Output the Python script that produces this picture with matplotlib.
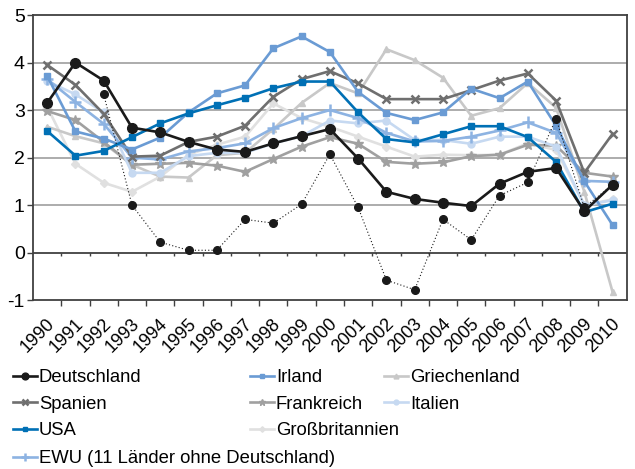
import numpy as np
import matplotlib.pyplot as plt
import matplotlib.transforms as mtransforms

plt.rcParams['font.family'] = ['Liberation Sans', 'DejaVu Sans']
plt.rcParams['axes.unicode_minus'] = False

years = list(range(1990, 2011))

deutschland = [3.15, 4.0, 3.62, 2.63, 2.53, 2.33, 2.17, 2.12, 2.3, 2.45, 2.6,
               1.98, 1.28, 1.13, 1.05, 0.98, 1.45, 1.7, 1.78, 0.87, 1.43]
deutschland_dotted = [np.nan, np.nan, 3.33, 1.0, 0.22, 0.05, 0.05, 0.7, 0.62, 1.02, 2.07,
                      0.95, -0.58, -0.78, 0.7, 0.27, 1.2, 1.48, 2.82, 0.95, 1.43]
irland = [3.72, 2.55, 2.4, 2.17, 2.42, 2.95, 3.35, 3.52, 4.3, 4.55, 4.22,
          3.38, 2.94, 2.79, 2.95, 3.45, 3.25, 3.6, 2.67, 1.5, 0.58]
griechenland = [2.65, 2.45, 2.3, 1.85, 1.6, 1.58, 2.05, 2.1, 2.6, 3.15, 3.57,
                3.35, 4.28, 4.05, 3.68, 2.88, 3.04, 3.57, 3.05, 1.28, -0.83]
spanien = [3.95, 3.53, 2.92, 2.02, 2.04, 2.33, 2.44, 2.67, 3.28, 3.65, 3.82,
           3.56, 3.23, 3.23, 3.23, 3.42, 3.62, 3.77, 3.2, 1.68, 2.5]
frankreich = [2.98, 2.79, 2.33, 1.85, 1.87, 1.89, 1.83, 1.7, 1.97, 2.23, 2.43,
              2.29, 1.91, 1.87, 1.9, 2.03, 2.06, 2.27, 2.25, 1.68, 1.6]
italien = [3.61, 3.33, 2.95, 1.68, 1.68, 2.03, 2.1, 2.1, 2.3, 2.45, 2.78,
           2.72, 2.78, 2.37, 2.37, 2.29, 2.44, 2.44, 2.23, 1.0, 1.1]
usa = [2.56, 2.04, 2.14, 2.43, 2.72, 2.93, 3.1, 3.26, 3.46, 3.6, 3.6,
       2.95, 2.39, 2.32, 2.49, 2.66, 2.66, 2.43, 1.91, 0.85, 1.03]
grossbritannien = [3.07, 1.87, 1.47, 1.28, 1.6, 2.06, 2.27, 2.44, 3.14, 2.83, 2.65,
                   2.44, 2.23, 2.02, 2.06, 2.05, 2.06, 2.3, 2.16, 1.0, 1.12]
ewu = [3.65, 3.17, 2.71, 2.0, 1.96, 2.13, 2.2, 2.3, 2.62, 2.83, 3.0,
       2.83, 2.52, 2.34, 2.35, 2.44, 2.57, 2.74, 2.52, 1.51, 1.49]

x = np.arange(len(years))

fig = plt.figure(figsize=(6.35, 4.69), dpi=100)
ax = fig.add_axes([0.052, 0.36, 0.935, 0.608])

for v in [1, 2, 3, 4]:
    ax.axhline(v, color='#a6a6a6', lw=1.3, zorder=0)
ax.axhline(0, color='#404040', lw=1.3, zorder=1)
ax.vlines(x[:-1] + 0.5, -0.08, 0, color='#404040', lw=1.0, zorder=1)

lw = 1.9
l_gb, = ax.plot(x, grossbritannien, color='#e0e0e0', lw=lw, marker='D', ms=4, label='Großbritannien')
l_gr, = ax.plot(x, griechenland, color='#c8c8c8', lw=lw, marker='^', ms=5, label='Griechenland')
l_fr, = ax.plot(x, frankreich, color='#a0a0a0', lw=lw, marker='*', ms=7, label='Frankreich')
l_it, = ax.plot(x, italien, color='#c6d9f1', lw=lw, marker='o', ms=5, label='Italien')
l_ewu, = ax.plot(x, ewu, color='#8db3e2', lw=lw, marker='+', ms=8, mew=1.8,
                 label='EWU (11 Länder ohne Deutschland)')
l_es, = ax.plot(x, spanien, color='#6f6f6f', lw=lw, marker='x', ms=6, mew=1.8, label='Spanien')
l_ir, = ax.plot(x, irland, color='#6a9bd4', lw=lw, marker='s', ms=5, label='Irland')
l_us, = ax.plot(x, usa, color='#0070b5', lw=lw, marker='s', ms=5, label='USA')
ax.plot(x, deutschland_dotted, color='#1a1a1a', lw=0.8, ls=(0, (1, 2)), marker='o', ms=5.5)
l_de, = ax.plot(x, deutschland, color='#1a1a1a', lw=lw, marker='o', ms=7, label='Deutschland')

ax.set_xlim(-0.5, len(years) - 0.5)
ax.set_ylim(-1, 5)
ax.set_yticks(range(-1, 6))
ax.tick_params(axis='y', labelsize=14, length=4, width=1.0, color='#404040', pad=2)

ax.set_xticks(x)
ax.set_xticklabels([str(y) for y in years], rotation=45, ha='right', va='center',
                   rotation_mode='anchor', fontsize=13)
ax.set_xticks(x[:-1] + 0.5, minor=True)
ax.tick_params(axis='x', which='major', length=0, pad=0)
ax.tick_params(axis='x', which='minor', length=4, width=1.0, color='#404040')
offset = mtransforms.ScaledTranslation(5 / 100, -21 / 100, fig.dpi_scale_trans)
for lab in ax.get_xticklabels():
    lab.set_transform(lab.get_transform() + offset)

for s in ax.spines.values():
    s.set_color('#404040')
    s.set_linewidth(1.3)

leg_kw = dict(loc='upper left', frameon=False, fontsize=13.3, handlelength=1.3,
              handletextpad=0.1, labelspacing=0.52, borderpad=0, borderaxespad=0,
              markerscale=0.7)
fig.legend(handles=[l_de, l_es, l_us], bbox_to_anchor=(13 / 635, 1 - 369 / 469), **leg_kw)
fig.legend(handles=[l_ir, l_fr, l_gb], bbox_to_anchor=(250 / 635, 1 - 369 / 469), **leg_kw)
fig.legend(handles=[l_gr, l_it], bbox_to_anchor=(384 / 635, 1 - 369 / 469), **leg_kw)
fig.legend(handles=[l_ewu], bbox_to_anchor=(13 / 635, 1 - 450 / 469), **leg_kw)

fig.savefig('out.png', dpi=100)
